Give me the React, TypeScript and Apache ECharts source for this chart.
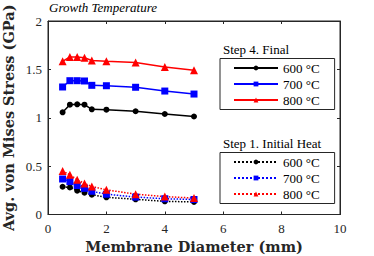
import React, { useEffect, useRef } from "react";
import * as echarts from "echarts";

const diameters = [0.5, 0.75, 1, 1.25, 1.5, 2, 3, 4, 5];
const final600 = [1.056, 1.135, 1.139, 1.135, 1.087, 1.083, 1.067, 1.039, 1.013];
const final700 = [1.318, 1.383, 1.383, 1.38, 1.335, 1.331, 1.315, 1.276, 1.245];
const final800 = [1.583, 1.628, 1.628, 1.62, 1.592, 1.585, 1.572, 1.525, 1.49];
const init600 = [0.287, 0.28, 0.246, 0.225, 0.205, 0.178, 0.157, 0.136, 0.13];
const init700 = [0.367, 0.34, 0.3, 0.27, 0.24, 0.21, 0.18, 0.163, 0.155];
const init800 = [0.45, 0.41, 0.36, 0.32, 0.29, 0.255, 0.21, 0.185, 0.17];
const xTicks = [0, 2, 4, 6, 8, 10];
const yTicks = [0, 0.5, 1, 1.5, 2];

const FONT = "Liberation Serif";
const BFONT = "DejaVu Serif";
const AX = "#262626";

function pts(vals: number[]) {
  return diameters.map((d, i) => [d, vals[i]]);
}

export default function App() {
  const ref = useRef<HTMLDivElement>(null);
  useEffect(() => {
    if (!ref.current) return;
    const chart = echarts.init(ref.current, undefined, { renderer: "svg" });
    const mk = (name: string, vals: number[], color: string, symbol: string, size: number, dotted: boolean) => ({
      name,
      type: "line",
      data: pts(vals),
      symbol,
      symbolSize: size,
      itemStyle: { color },
      lineStyle: { color, width: 1.5, type: dotted ? "dotted" : "solid" },
      z: 3,
    });
    const axisCommon = {
      type: "value",
      splitLine: { show: false },
      nameMoveOverlap: false,
      axisLine: { show: true, onZero: false, lineStyle: { color: AX, width: 1 } },
      axisTick: { show: true, inside: true, length: 3, lineStyle: { color: AX } },
    };
    const legendCommon = {
      orient: "vertical",
      left: 220,
      formatter: (n: string) => "{t|" + n.split("|")[1] + "}",
      borderColor: AX,
      borderWidth: 1,
      padding: [3, 15, 3, 13],
      itemWidth: 44,
      itemHeight: 6,
      itemGap: 3,
      textStyle: {
        fontFamily: FONT,
        fontSize: 13,
        color: "#000",
        rich: { t: { fontFamily: FONT, fontSize: 13, color: "#000" } },
      },
      backgroundColor: "#fff",
    };
    chart.setOption({
      animation: false,
      backgroundColor: "#fff",
      textStyle: { fontFamily: FONT },
      grid: { left: 48, right: 34, top: 21, bottom: 41.5, show: false, containLabel: false, outerBoundsMode: "none" },
      xAxis: [
        {
          ...axisCommon,
          min: 0,
          max: 10,
          interval: 2,
          position: "bottom",
          axisLabel: {
            fontFamily: FONT,
            fontSize: 13,
            color: AX,
            margin: 7,
            formatter: (v: number) => (xTicks.includes(v) ? String(v) : ""),
          },
          name: "Membrane Diameter (mm)",
          nameLocation: "middle",
          nameGap: 24,
          nameTextStyle: { fontFamily: BFONT, fontWeight: "bold", fontSize: 14.5, color: AX },
        },
        {
          ...axisCommon,
          min: 0,
          max: 10,
          interval: 2,
          position: "top",
          axisLabel: { show: false },
        },
      ],
      yAxis: [
        {
          ...axisCommon,
          min: 0,
          max: 2,
          interval: 0.5,
          position: "left",
          axisLabel: {
            fontFamily: FONT,
            fontSize: 13,
            color: AX,
            margin: 6,
            formatter: (v: number) => (yTicks.includes(v) ? String(v) : ""),
          },
          name: "Avg. von Mises Stress (GPa)",
          nameLocation: "middle",
          nameGap: 32,
          nameTextStyle: { fontFamily: BFONT, fontWeight: "bold", fontSize: 14.5, color: AX },
        },
        {
          ...axisCommon,
          min: 0,
          max: 2,
          interval: 0.5,
          position: "right",
          axisLabel: { show: false },
        },
      ],
      legend: [
        { ...legendCommon, top: 58.5, data: ["F|600 °C", "F|700 °C", "F|800 °C"] },
        { ...legendCommon, top: 152.5, data: ["I|600 °C", "I|700 °C", "I|800 °C"] },
      ],
      graphic: [
        {
          type: "text",
          left: 49,
          top: 1,
          style: { text: "Growth Temperature", font: `italic 13px "${FONT}"`, fill: "#000" },
        },
        {
          type: "text",
          left: 223,
          top: 43,
          style: { text: "Step 4. Final", font: `13px "${FONT}"`, fill: "#000" },
        },
        {
          type: "text",
          left: 223,
          top: 137,
          style: { text: "Step 1. Initial Heat", font: `13px "${FONT}"`, fill: "#000" },
        },
        {
          type: "rect",
          shape: { x: 48, y: 21, width: 292, height: 193.5 },
          style: { fill: "none", stroke: AX, lineWidth: 1 },
          silent: true,
          z: 10,
        },
      ],
      series: [
        mk("F|600 °C", final600, "#000000", "circle", 6, false),
        mk("F|700 °C", final700, "#0000ff", "rect", 7, false),
        mk("F|800 °C", final800, "#ff0000", "triangle", 8, false),
        mk("I|600 °C", init600, "#000000", "circle", 6, true),
        mk("I|700 °C", init700, "#0000ff", "rect", 7, true),
        mk("I|800 °C", init800, "#ff0000", "triangle", 8, true),
      ],
    });
    return () => chart.dispose();
  }, []);
  return <div ref={ref} style={{ width: 374, height: 256, position: "absolute", left: 0, top: 0 }} />;
}
